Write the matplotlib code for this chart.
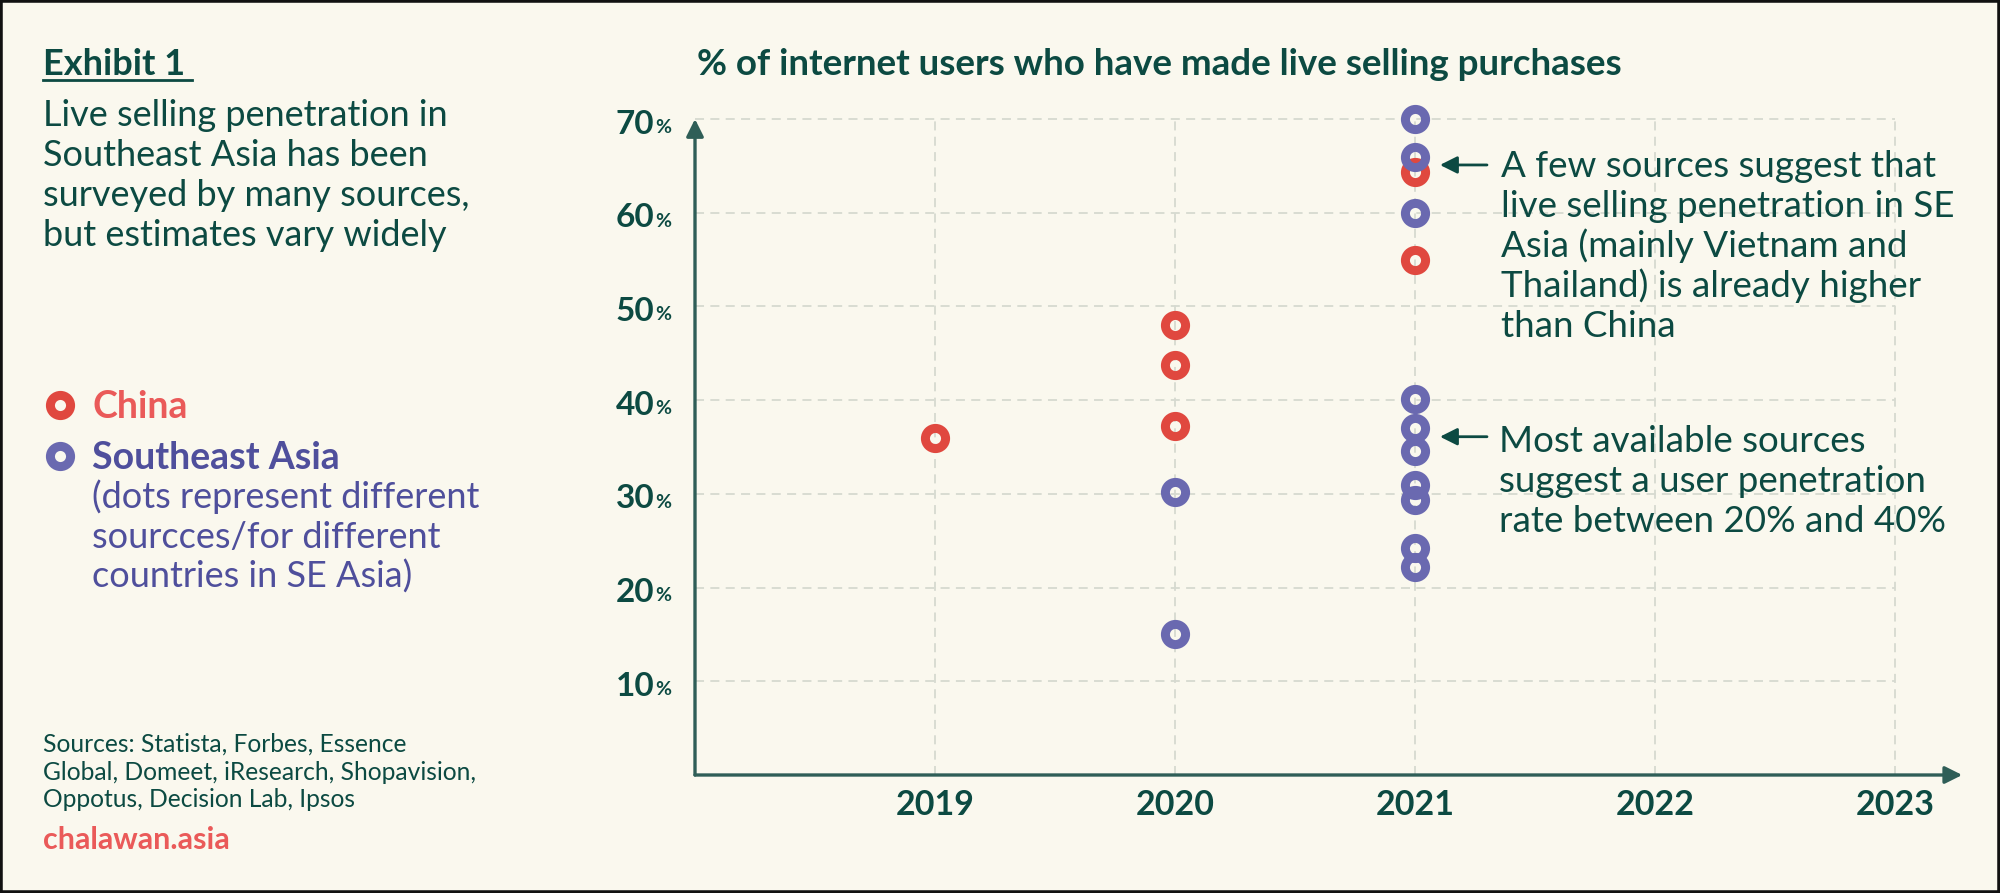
import matplotlib
matplotlib.use('Agg')
import matplotlib.pyplot as plt
from matplotlib.lines import Line2D
from matplotlib.patches import Rectangle

plt.rcParams['font.family'] = ['Lato', 'DejaVu Sans']

BG = '#faf8ee'
INK = '#0c4a42'
AXIS = '#2f5e57'
GRID = '#d6d9d0'
RED = '#e0483f'
BLUE = '#6a69b0'
RED_TXT = '#ea5a59'
BLUE_TXT = '#4f4f9c'

# --- data ---
china_years = [2019, 2020, 2020, 2020, 2021, 2021]
china_pct = [36, 48, 43.7, 37.2, 64.3, 55]
sea_years = [2020, 2020, 2021, 2021, 2021, 2021, 2021, 2021, 2021, 2021, 2021, 2021]
sea_pct = [30.2, 15, 70, 66, 60, 40.1, 37, 34.6, 31, 29.3, 24.2, 22.2]
year_ticks = [2019, 2020, 2021, 2022, 2023]
pct_ticks = [10, 20, 30, 40, 50, 60, 70]

W, H = 2000, 893
fig = plt.figure(figsize=(W / 100, H / 100), dpi=100, facecolor=BG)


def fx(x):
    return x / W


def fy(y):
    return 1 - y / H


def text_lines(x, y, lines, step, **kw):
    # one fig.text per line so the line spacing is exact (y = first baseline)
    for i, s in enumerate(lines):
        fig.text(fx(x), fy(y + i * step), s, ha='left', va='baseline', **kw)


# axes: x 2018..2023.35, y 0..72
ax = fig.add_axes([fx(695), fy(775), (1979 - 695) / W, (775 - 100.3) / H])
ax.set_facecolor('none')
ax.set_xlim(2018, 2023.35)
ax.set_ylim(0, 72)
for s in ax.spines.values():
    s.set_visible(False)

# dashed grid
ax.hlines(pct_ticks, 2018, year_ticks[-1], colors=GRID, lw=1.3,
          linestyles=(0, (5, 3.5)), zorder=1)
ax.vlines(year_ticks, 0, pct_ticks[-1], colors=GRID, lw=1.3,
          linestyles=(0, (5, 3.5)), zorder=1)

# axis arrows
arr = dict(arrowstyle='-|>', color=AXIS, lw=2.4, mutation_scale=26,
           shrinkA=0, shrinkB=0)
ax.annotate('', xy=(2018, 70), xytext=(2018, 0), arrowprops=arr,
            annotation_clip=False, zorder=3)
ax.annotate('', xy=(2023.28, 0), xytext=(2018, 0), arrowprops=arr,
            annotation_clip=False, zorder=3)

# points (rings)
ring = dict(ls='none', marker='o', ms=14.5, mew=6.5, mfc='none', clip_on=False)
ax.plot(china_years, china_pct, mec=RED, zorder=4, **ring)
ax.plot(sea_years, sea_pct, mec=BLUE, zorder=5, **ring)

# x ticks
ax.set_xticks(year_ticks)
ax.set_xticklabels([str(y) for y in year_ticks], fontsize=24.5,
                   fontweight='bold', color=INK)
ax.tick_params(axis='x', length=0, pad=10)
ax.set_yticks([])

# y tick labels: big number + small %
for v in pct_ticks:
    num = ax.annotate(str(v), xy=(2018, v), xycoords='data',
                      xytext=(-57, -10.5), textcoords='offset points',
                      ha='left', va='baseline', fontsize=24,
                      fontweight='bold', color=INK, annotation_clip=False)
    ax.annotate('%', xy=(1, 0), xycoords=num, xytext=(0.5, 2),
                textcoords='offset points', ha='left', va='bottom',
                fontsize=14, fontweight='bold', color=INK)

# chart title
fig.text(fx(697), fy(75), '% of internet users who have made live selling purchases',
         fontsize=26.5, fontweight='bold', color=INK, ha='left', va='baseline')

# annotations with arrows
note = dict(arrowstyle='-|>', color=INK, lw=2, mutation_scale=26,
            shrinkA=0, shrinkB=0)
ax.annotate('', xy=(2021.104, 65.1), xytext=(2021.30, 65.1), arrowprops=note,
            annotation_clip=False)
ax.annotate('', xy=(2021.104, 36.1), xytext=(2021.30, 36.1), arrowprops=note,
            annotation_clip=False)
text_lines(1501, 177, ['A few sources suggest that',
                       'live selling penetration in SE',
                       'Asia (mainly Vietnam and',
                       'Thailand) is already higher',
                       'than China'], 40, fontsize=26.5, color=INK)
text_lines(1499, 452, ['Most available sources',
                       'suggest a user penetration',
                       'rate between 20% and 40%'], 40, fontsize=26.5, color=INK)

# left panel
fig.text(fx(43), fy(75), 'Exhibit 1', fontsize=26, fontweight='bold',
         color=INK, ha='left', va='baseline')
fig.add_artist(Line2D([fx(43), fx(192)], [fy(80), fy(80)], color=INK, lw=2))
text_lines(43, 126, ['Live selling penetration in',
                     'Southeast Asia has been',
                     'surveyed by many sources,',
                     'but estimates vary widely'], 40, fontsize=26, color=INK)

# legend
fig.add_artist(Line2D([fx(60)], [fy(405)], ls='none', marker='o', ms=14.5,
                      mew=6.5, mfc='none', mec=RED))
fig.add_artist(Line2D([fx(60)], [fy(456)], ls='none', marker='o', ms=14.5,
                      mew=6.5, mfc='none', mec=BLUE))
fig.text(fx(92), fy(418), 'China', fontsize=27, fontweight='bold',
         color=RED_TXT, ha='left', va='baseline')
fig.text(fx(92), fy(469), 'Southeast Asia', fontsize=27, fontweight='bold',
         color=BLUE_TXT, ha='left', va='baseline')
text_lines(92, 508, ['(dots represent different',
                     'sourcces/for different',
                     'countries in SE Asia)'], 40, fontsize=26, color=BLUE_TXT)

text_lines(43, 752, ['Sources: Statista, Forbes, Essence',
                     'Global, Domeet, iResearch, Shopavision,',
                     'Oppotus, Decision Lab, Ipsos'], 27.5, fontsize=17.7, color=INK)
fig.text(fx(43), fy(849), 'chalawan.asia', fontsize=22, fontweight='bold',
         color=RED_TXT, ha='left', va='baseline')

# frame
fig.add_artist(Rectangle((0, 0), 1, 1, transform=fig.transFigure,
                         fill=False, edgecolor='#111111', lw=4))

fig.savefig('out.png', dpi=100, facecolor=BG)
